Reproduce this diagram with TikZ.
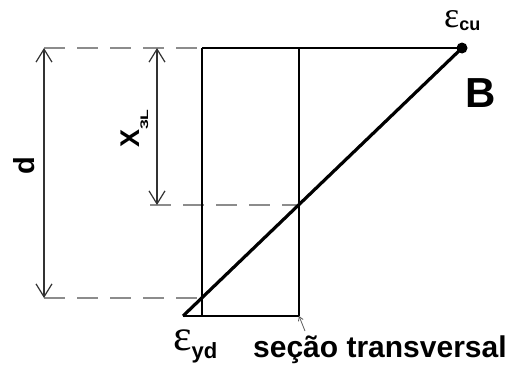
\documentclass[tikz,border=0pt]{standalone}
\usepackage{fontspec}
\setmainfont{Liberation Sans}
\newfontfamily\epsfont{Liberation Serif}
\usetikzlibrary{arrows.meta}
\begin{document}
\begin{tikzpicture}[x=1pt,y=-1pt,
  guide/.style={draw={rgb,255:red,140;green,140;blue,140}, line width=1.8pt, dash pattern=on 21pt off 12pt},
  dimline/.style={draw={rgb,255:red,50;green,50;blue,50}, line width=1.2pt, {Straight Barb[length=13pt,width=16pt]}-{Straight Barb[length=13pt,width=16pt]}},
  lbl/.style={inner sep=0pt, font=\bfseries}]
\useasboundingbox (0,0) rectangle (511,367);
% key points
\coordinate (TL) at (202,48);
\coordinate (TR) at (299,48);
\coordinate (BL) at (202,316);
\coordinate (BR) at (299,316);
\coordinate (E) at (183,316);
\coordinate (M) at (299,205);
\coordinate (DL) at (202,298);
\coordinate (dT) at (44,48);
\coordinate (dB) at (44,298);
\coordinate (xT) at (157,48);
\coordinate (xB) at (157,205);
\coordinate (xM) at (150,205);
\node[circle, fill=black, inner sep=0pt, minimum size=11pt] (dot) at (462,48) {};
% dashed guide lines
\draw[guide] (dT) -- (TL);
\draw[guide] (xM) -- (M);
\draw[guide] (dB) -- (DL);
% section
\draw[line width=1.6pt] (TL) -- (BL);
\draw[line width=2.6pt] (TR) -- (BR);
\draw[line width=2pt] (TL) -- (dot.center);
\draw[line width=2pt] (E) -- (BR);
\draw[line width=3.2pt] (E) -- (dot.center);
% dimensions
\draw[dimline] (dT) -- (dB);
\draw[dimline] (xT) -- (xB);
% labels
\node[lbl, rotate=90, font=\bfseries\fontsize{29}{29}\selectfont] (d) at (24,166) {d};
\node[lbl, rotate=90, anchor=base west] (x3l) at (139,148) {\fontsize{27}{27}\selectfont X\raisebox{-9pt}{\scalebox{1.6}[1]{\fontsize{11}{11}\selectfont 3L}}};
\node[lbl, anchor=base west] (B) at (465,107) {\fontsize{42}{42}\selectfont B};
\node[lbl, anchor=base west] (ecu) at (444,27) {{\epsfont\mdseries\fontsize{36}{36}\selectfont ε}\raisebox{-3pt}{\fontsize{18}{18}\selectfont cu}};
\node[lbl, anchor=base west] (eyd) at (173,350) {{\epsfont\mdseries\fontsize{44}{44}\selectfont ε}\raisebox{-8pt}{\fontsize{22}{22}\selectfont yd}};
\node[lbl, anchor=base west] (sec) at (253,357) {\fontsize{30}{30}\selectfont seção transversal};
\coordinate (lead) at (305,331);
\draw[draw={rgb,255:red,90;green,90;blue,90}, line width=0.8pt, -{Straight Barb[length=4pt,width=5pt]}] (lead) -- (BR);
\end{tikzpicture}
\end{document}
